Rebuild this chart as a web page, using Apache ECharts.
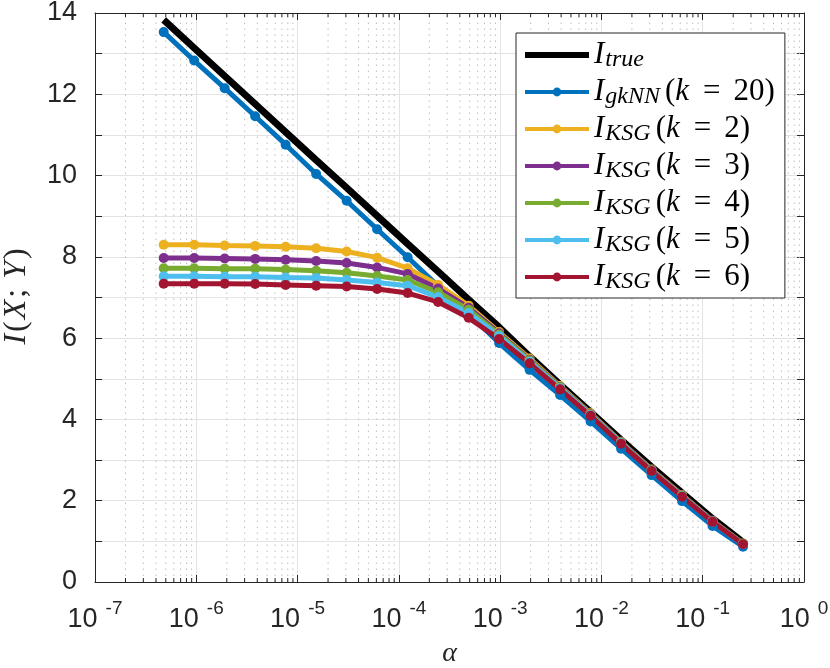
<!DOCTYPE html>
<html>
<head>
<meta charset="utf-8">
<script src="https://cdn.jsdelivr.net/npm/echarts@6/dist/echarts.min.js"></script>
<style>
  html, body { margin: 0; padding: 0; background: #fff; }
  #main { width: 830px; height: 668px; }
</style>
</head>
<body>
<div id="main"></div>
<script>
// alpha = 2^-21 ... 2^-2
var alpha = [4.768e-7, 9.537e-7, 1.907e-6, 3.815e-6, 7.629e-6, 1.526e-5, 3.052e-5, 6.104e-5,
  1.221e-4, 2.441e-4, 4.883e-4, 9.766e-4, 1.953e-3, 3.906e-3, 7.813e-3, 1.563e-2,
  3.125e-2, 6.25e-2, 0.125, 0.25];

var iTrue = [13.83, 13.14, 12.45, 11.76, 11.07, 10.38, 9.70, 9.01, 8.32, 7.64,
  6.95, 6.27, 5.55, 4.86, 4.18, 3.50, 2.83, 2.19, 1.56, 0.98];
var gkNN20 = [13.53, 12.83, 12.15, 11.46, 10.76, 10.04, 9.38, 8.68, 7.99, 7.28,
  6.60, 5.88, 5.22, 4.60, 3.95, 3.28, 2.63, 1.99, 1.38, 0.87];
var ksg2 = [8.30, 8.30, 8.28, 8.27, 8.25, 8.21, 8.13, 7.98, 7.72, 7.31,
  6.80, 6.15, 5.50, 4.82, 4.15, 3.45, 2.77, 2.14, 1.51, 0.95];
var ksg3 = [7.97, 7.97, 7.96, 7.95, 7.93, 7.90, 7.85, 7.74, 7.58, 7.22,
  6.75, 6.12, 5.47, 4.80, 4.13, 3.44, 2.76, 2.13, 1.50, 0.94];
var ksg4 = [7.72, 7.72, 7.71, 7.71, 7.69, 7.66, 7.61, 7.53, 7.43, 7.13,
  6.70, 6.09, 5.45, 4.79, 4.12, 3.43, 2.75, 2.12, 1.49, 0.94];
var ksg5 = [7.52, 7.52, 7.51, 7.51, 7.49, 7.48, 7.43, 7.37, 7.29, 7.01,
  6.62, 6.05, 5.42, 4.77, 4.11, 3.42, 2.74, 2.11, 1.49, 0.93];
var ksg6 = [7.34, 7.34, 7.34, 7.33, 7.31, 7.29, 7.27, 7.21, 7.11, 6.89,
  6.50, 5.98, 5.38, 4.74, 4.09, 3.40, 2.73, 2.10, 1.48, 0.93];

var yTickLabels = [0, 2, 4, 6, 8, 10, 12, 14];
var decades = [-7, -6, -5, -4, -3, -2, -1, 0];

// minor (2..9 x 10^d) positions for the dotted log grid
var minorVals = [];
decades.slice(0, -1).forEach(function (d) {
  for (var m = 2; m <= 9; m++) minorVals.push([m * Math.pow(10, d), 0]);
});

var axisColor = '#262626';
var serif = '"Liberation Serif", "DejaVu Serif", serif';
var sans = '"Liberation Sans", Arial, Helvetica, sans-serif';

function pts(vals) {
  return alpha.map(function (a, i) { return [a, vals[i]]; });
}

function lineSeries(name, vals, color) {
  return {
    name: name,
    type: 'line',
    data: pts(vals),
    symbol: 'circle',
    symbolSize: 10,
    showSymbol: true,
    color: color,
    itemStyle: { color: color },
    lineStyle: { color: color, width: 5 },
    z: 3
  };
}

var legendText = {
  'I_true': '{I|I}{sub|true}',
  'gkNN20': '{I|I}{sub|gkNN}{p|(}{it|k}{eq|=}{p|20)}',
  'ksg2': '{I|I}{sub|KSG}{p|(}{it|k}{eq|=}{p|2)}',
  'ksg3': '{I|I}{sub|KSG}{p|(}{it|k}{eq|=}{p|3)}',
  'ksg4': '{I|I}{sub|KSG}{p|(}{it|k}{eq|=}{p|4)}',
  'ksg5': '{I|I}{sub|KSG}{p|(}{it|k}{eq|=}{p|5)}',
  'ksg6': '{I|I}{sub|KSG}{p|(}{it|k}{eq|=}{p|6)}'
};

var chart = echarts.init(document.getElementById('main'), null, { renderer: 'canvas' });

chart.setOption({
  animation: false,
  backgroundColor: '#fff',
  grid: { left: 95, right: 26, top: 13, bottom: 86, containLabel: false, outerBoundsMode: 'none' },
  legend: {
    orient: 'vertical',
    left: 516,
    top: 33,
    padding: [5, 10, 4, 6],
    itemWidth: 64,
    itemHeight: 11,
    itemGap: 3,
    backgroundColor: '#fff',
    borderColor: axisColor,
    borderWidth: 1,
    borderRadius: 0,
    lineStyle: { width: 4 },
    data: [
      { name: 'I_true', itemStyle: { opacity: 0 }, lineStyle: { width: 6 } },
      'gkNN20', 'ksg2', 'ksg3', 'ksg4', 'ksg5', 'ksg6'
    ],
    formatter: function (name) { return legendText[name]; },
    textStyle: {
      color: '#000',
      rich: {
        I: { fontFamily: serif, fontStyle: 'italic', fontSize: 31, lineHeight: 27, padding: [0, 1, 0, 0] },
        sub: { fontFamily: serif, fontStyle: 'italic', fontSize: 24, lineHeight: 17, padding: [10, 5, 0, 0] },
        p: { fontFamily: serif, fontSize: 31, lineHeight: 27 },
        it: { fontFamily: serif, fontStyle: 'italic', fontSize: 31, lineHeight: 27, padding: [0, 1, 0, 0] },
        eq: { fontFamily: serif, fontSize: 31, lineHeight: 27, padding: [0, 13, 0, 13] }
      }
    }
  },
  xAxis: [{
    type: 'log',
    logBase: 10,
    min: 1e-7,
    max: 1,
    splitNumber: 7,
    position: 'bottom',
    name: 'α',
    nameLocation: 'middle',
    nameGap: 58,
    nameTextStyle: { fontFamily: serif, fontStyle: 'italic', fontSize: 28, color: axisColor },
    axisLine: { show: true, onZero: false, lineStyle: { color: axisColor, width: 1 } },
    axisTick: { show: true, inside: true, length: 7, lineStyle: { color: axisColor } },
    splitLine: { show: true, lineStyle: { color: '#e3e3e3', width: 1 } },
    axisLabel: {
      margin: 18,
      formatter: function (v) {
        var e = Math.round(Math.log10(v));
        return '{b|10}{s|' + e + '}';
      },
      rich: {
        b: { fontFamily: sans, fontSize: 27, lineHeight: 27, color: axisColor, padding: [12, 0, 0, 0] },
        s: { fontFamily: sans, fontSize: 19, lineHeight: 19, color: axisColor, padding: [0, 0, 10, 8] }
      }
    }
  }, {
    type: 'log',
    logBase: 10,
    min: 1e-7,
    max: 1,
    splitNumber: 7,
    position: 'top',
    axisLine: { show: true, onZero: false, lineStyle: { color: axisColor, width: 1 } },
    axisTick: { show: true, inside: true, length: 7, lineStyle: { color: axisColor } },
    axisLabel: { show: false },
    splitLine: { show: false }
  }],
  yAxis: [{
    type: 'value',
    min: 0,
    max: 14,
    interval: 1,
    position: 'left',
    name: '{i|I}{p|(}{i|X}{p|; }{i|Y}{p|)}',
    nameLocation: 'middle',
    nameRotate: 90,
    nameGap: 62,
    nameTextStyle: {
      rich: {
        i: { fontFamily: serif, fontStyle: 'italic', fontSize: 32, color: axisColor, padding: [0, 2, 0, 2] },
        p: { fontFamily: serif, fontSize: 32, color: axisColor }
      }
    },
    axisLine: { show: true, onZero: false, lineStyle: { color: axisColor, width: 1 } },
    axisTick: { show: true, inside: true, length: 7, lineStyle: { color: axisColor } },
    splitLine: { show: true, lineStyle: { color: '#e3e3e3', width: 1 } },
    axisLabel: {
      margin: 18,
      fontFamily: sans,
      fontSize: 27,
      color: axisColor,
      formatter: function (v) { return yTickLabels.indexOf(v) >= 0 ? String(v) : ''; }
    }
  }, {
    type: 'value',
    min: 0,
    max: 14,
    interval: 1,
    position: 'right',
    axisLine: { show: true, onZero: false, lineStyle: { color: axisColor, width: 1 } },
    axisTick: { show: true, inside: true, length: 7, lineStyle: { color: axisColor } },
    axisLabel: { show: false },
    splitLine: { show: false }
  }],
  series: [
    {
      name: 'minorGrid',
      type: 'custom',
      silent: true,
      z: 1,
      data: minorVals,
      encode: { x: 0, y: 1 },
      renderItem: function (params, api) {
        var v = api.value(0);
        var p0 = api.coord([v, 0]);
        var p1 = api.coord([v, 14]);
        return {
          type: 'group',
          children: [
            { type: 'line', shape: { x1: p0[0], y1: p0[1], x2: p1[0], y2: p1[1] },
              style: { stroke: '#bfbfbf', lineWidth: 1, lineDash: [1.5, 4.5] } },
            { type: 'line', shape: { x1: p0[0], y1: p0[1], x2: p0[0], y2: p0[1] - 4 },
              style: { stroke: axisColor, lineWidth: 1 } },
            { type: 'line', shape: { x1: p1[0], y1: p1[1], x2: p1[0], y2: p1[1] + 4 },
              style: { stroke: axisColor, lineWidth: 1 } }
          ]
        };
      }
    },
    {
      name: 'I_true',
      type: 'line',
      data: pts(iTrue),
      symbol: 'none',
      color: '#000',
      itemStyle: { color: '#000', opacity: 0 },
      lineStyle: { color: '#000', width: 7, opacity: 1 },
      z: 2
    },
    lineSeries('gkNN20', gkNN20, '#0072BD'),
    lineSeries('ksg2', ksg2, '#EDB120'),
    lineSeries('ksg3', ksg3, '#7E2F8E'),
    lineSeries('ksg4', ksg4, '#77AC30'),
    lineSeries('ksg5', ksg5, '#4DBEEE'),
    lineSeries('ksg6', ksg6, '#A2142F')
  ]
});
</script>
</body>
</html>
